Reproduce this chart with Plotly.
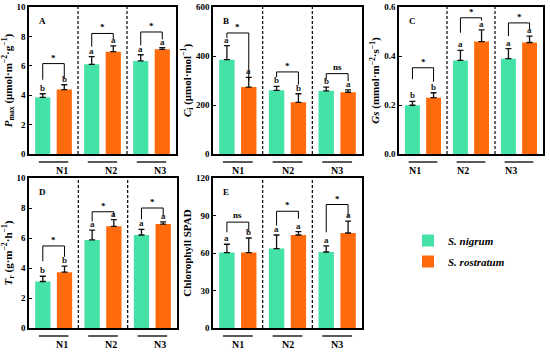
import plotly.graph_objects as go

groups = ["N1", "N2", "N3"]
species = ["S. nigrum", "S. rostratum"]

# Panel A: Pmax
pmax_nig = [3.85, 6.10, 6.33]
pmax_nig_err = [0.25, 0.52, 0.42]
pmax_ros = [4.38, 6.96, 7.12]
pmax_ros_err = [0.33, 0.39, 0.12]
pmax_let_nig = ["b", "a", "a"]
pmax_let_ros = ["b", "a", "a"]
pmax_sig = ["*", "*", "*"]
pmax_br_top = [6.15, 8.2, 8.3]
pmax_br_l = [5.05, 7.3, 7.4]
pmax_br_r = [5.1, 7.8, 7.8]

# Panel B: Ci
ci_nig = [385, 260, 258]
ci_nig_err = [57, 16, 15]
ci_ros = [273, 211, 252]
ci_ros_err = [40, 35, 10]
ci_let_nig = ["a", "b", "b"]
ci_let_ros = ["a", "b", "a"]
ci_sig = ["*", "*", "ns"]
ci_br_top = [494, 335, 328]
ci_br_l = [474, 314, 303]
ci_br_r = [300, 283, 297]

# Panel C: Gs
gs_nig = [0.199, 0.382, 0.389]
gs_nig_err = [0.016, 0.041, 0.041]
gs_ros = [0.230, 0.459, 0.455]
gs_ros_err = [0.020, 0.048, 0.026]
gs_let_nig = ["b", "a", "a"]
gs_let_ros = ["b", "a", "a"]
gs_sig = ["*", "*", "*"]
gs_br_top = [0.352, 0.556, 0.535]
gs_br_l = [0.305, 0.495, 0.481]
gs_br_r = [0.295, 0.545, 0.508]

# Panel D: Tr
tr_nig = [3.10, 5.87, 6.20]
tr_nig_err = [0.35, 0.65, 0.38]
tr_ros = [3.72, 6.78, 6.93]
tr_ros_err = [0.40, 0.45, 0.15]
tr_let_nig = ["b", "a", "a"]
tr_let_ros = ["b", "a", "a"]
tr_sig = ["*", "*", "*"]
tr_br_top = [5.47, 7.75, 8.0]
tr_br_l = [4.45, 7.1, 7.25]
tr_br_r = [4.75, 7.45, 7.48]

# Panel E: Chlorophyll SPAD
spad_nig = [60.3, 63.5, 60.8]
spad_nig_err = [6.7, 10.9, 4.9]
spad_ros = [60.3, 74.4, 76.0]
spad_ros_err = [11.7, 2.7, 9.5]
spad_let_nig = ["a", "a", "a"]
spad_let_ros = ["b", "a", "a"]
spad_sig = ["ns", "*", "*"]
spad_br_top = [84.7, 93.4, 98.8]
spad_br_l = [76.6, 82.0, 76.6]
spad_br_r = [76.6, 87.4, 88.8]

C_NIG = "#45E2A8"
C_ROS = "#FF6A0C"
FONT = "Liberation Serif"
W, H = 550, 353

panels = [
    dict(tag="A", nig=pmax_nig, nige=pmax_nig_err, ros=pmax_ros, rose=pmax_ros_err,
         ln=pmax_let_nig, lr=pmax_let_ros, sig=pmax_sig, bt=pmax_br_top, bl=pmax_br_l, brr=pmax_br_r,
         rng=[0, 10], dt=2, fmt="", px=(29, 176), py=(7, 154),
         title="<b><i>P</i><sub>max</sub> (μmol·m<sup>−2</sup>·g<sup>−1</sup>)</b>"),
    dict(tag="B", nig=ci_nig, nige=ci_nig_err, ros=ci_ros, rose=ci_ros_err,
         ln=ci_let_nig, lr=ci_let_ros, sig=ci_sig, bt=ci_br_top, bl=ci_br_l, brr=ci_br_r,
         rng=[0, 600], dt=200, fmt="", px=(213, 362), py=(7, 154),
         title="<b><i>C</i><sub>i</sub> (μmol·mol<sup>−1</sup>)</b>"),
    dict(tag="C", nig=gs_nig, nige=gs_nig_err, ros=gs_ros, rose=gs_ros_err,
         ln=gs_let_nig, lr=gs_let_ros, sig=gs_sig, bt=gs_br_top, bl=gs_br_l, brr=gs_br_r,
         rng=[0, 0.6], dt=0.2, fmt=".1f", px=(399, 543), py=(7, 154),
         title="<b><i>Gs</i> (mmol·m<sup>−2</sup>·s<sup>−1</sup>)</b>"),
    dict(tag="D", nig=tr_nig, nige=tr_nig_err, ros=tr_ros, rose=tr_ros_err,
         ln=tr_let_nig, lr=tr_let_ros, sig=tr_sig, bt=tr_br_top, bl=tr_br_l, brr=tr_br_r,
         rng=[0, 10], dt=2, fmt="", px=(29, 177), py=(178, 328),
         title="<b><i>T</i><sub>r</sub> (g·m<sup>−2</sup>·h<sup>−1</sup>)</b>"),
    dict(tag="E", nig=spad_nig, nige=spad_nig_err, ros=spad_ros, rose=spad_ros_err,
         ln=spad_let_nig, lr=spad_let_ros, sig=spad_sig, bt=spad_br_top, bl=spad_br_l, brr=spad_br_r,
         rng=[0, 120], dt=30, fmt="", px=(213, 362), py=(178, 328),
         title="<b>Chlorophyll SPAD</b>"),
]

OFF = 0.22
BW = 0.31
gx = list(range(len(groups)))

fig = go.Figure()
shapes = []
annotations = []

for k, p in enumerate(panels):
    n = "" if k == 0 else str(k + 1)
    xa, ya = "x" + n, "y" + n
    xd = [p["px"][0] / W, p["px"][1] / W]
    yd = [1 - p["py"][1] / H, 1 - p["py"][0] / H]

    for vals, errs, col, name, sh in [
        (p["nig"], p["nige"], C_NIG, species[0], -OFF),
        (p["ros"], p["rose"], C_ROS, species[1], OFF),
    ]:
        fig.add_trace(go.Bar(
            x=[g + sh for g in gx], y=vals, width=BW, marker=dict(color=col, line=dict(width=0)),
            error_y=dict(type="data", array=errs, arrayminus=[0] * len(errs), symmetric=False,
                         color="#111111", thickness=1.3, width=3),
            name="<b><i>" + name + "</i></b>", showlegend=(k == 0),
            legendgroup=name, xaxis=xa, yaxis=ya,
        ))

    for i in gx:
        fig.add_trace(go.Scatter(
            x=[i - OFF, i - OFF, i + OFF, i + OFF],
            y=[p["bl"][i], p["bt"][i], p["bt"][i], p["brr"][i]],
            mode="lines", line=dict(color="black", width=1), showlegend=False,
            hoverinfo="skip", xaxis=xa, yaxis=ya,
        ))
        annotations.append(dict(
            x=i, y=p["bt"][i], xref=xa, yref=ya, text=p["sig"][i], showarrow=False,
            yanchor="bottom", yshift=-1 if p["sig"][i] == "*" else 0,
            font=dict(family=FONT, size=9, color="black", weight="bold"),
        ))
        for sh, v, e, lt in [(-OFF, p["nig"][i], p["nige"][i], p["ln"][i]),
                             (OFF, p["ros"][i], p["rose"][i], p["lr"][i])]:
            annotations.append(dict(
                x=i + sh, y=v + e, xref=xa, yref=ya, text=lt, showarrow=False,
                yanchor="bottom", yshift=-1,
                font=dict(family=FONT, size=9, color="#1a1a1a", weight="bold"),
            ))
        x0 = p["px"][0] + (i - 0.3 + 0.5) / 3 * (p["px"][1] - p["px"][0])
        x1 = p["px"][0] + (i + 0.3 + 0.5) / 3 * (p["px"][1] - p["px"][0])
        yl = p["py"][1] + 8
        shapes.append(dict(type="line", xref="paper", yref="paper",
                           x0=x0 / W, x1=x1 / W, y0=1 - yl / H, y1=1 - yl / H,
                           line=dict(color="black", width=1.3)))
        annotations.append(dict(
            x=(x0 + x1) / 2 / W, y=1 - (yl + 1) / H, xref="paper", yref="paper",
            text=groups[i], showarrow=False, yanchor="top",
            font=dict(family=FONT, size=10, color="black", weight="bold"),
        ))

    for xs in [0.5, 1.5]:
        shapes.append(dict(type="line", xref=xa, yref=ya + " domain", x0=xs, x1=xs, y0=0, y1=1,
                           line=dict(color="black", width=1.2, dash="3px,2px")))

    annotations.append(dict(
        x=xd[0] + 8 / W, y=yd[1] - 7 / H, xref="paper", yref="paper", text=p["tag"],
        showarrow=False, xanchor="left", yanchor="top",
        font=dict(family=FONT, size=9, color="black", weight="bold"),
    ))

    fig.layout["xaxis" + n] = dict(
        domain=xd, range=[-0.5, 2.5], showticklabels=False, ticks="", showgrid=False,
        zeroline=False, showline=True, linecolor="black", linewidth=1.5, mirror=True,
        anchor=ya, automargin=False,
    )
    fig.layout["yaxis" + n] = dict(
        domain=yd, range=p["rng"], dtick=p["dt"], tick0=0, tickformat=p["fmt"],
        showgrid=False, zeroline=False, showline=True, linecolor="black", linewidth=1.5,
        mirror=True, ticks="inside", ticklen=3, tickwidth=1, tickcolor="black",
        tickfont=dict(family=FONT, size=9, color="black", weight="bold"),
        title=dict(text=p["title"], font=dict(family=FONT, size=11, color="black"), standoff=2),
        anchor=xa, automargin=False,
    )

fig.update_layout(
    width=W, height=H, autosize=False, margin=dict(l=0, r=0, t=0, b=0),
    paper_bgcolor="white", plot_bgcolor="white", barmode="overlay",
    shapes=shapes, annotations=annotations,
    legend=dict(x=408 / W, y=1 - 226 / H, xanchor="left", yanchor="top",
                font=dict(family=FONT, size=11, color="black"), tracegroupgap=2,
                bgcolor="rgba(0,0,0,0)"),
    font=dict(family=FONT),
)

fig.write_html("out.html", config={"displayModeBar": False},
               post_script="document.body.style.margin='0';document.body.style.overflow='hidden';")
